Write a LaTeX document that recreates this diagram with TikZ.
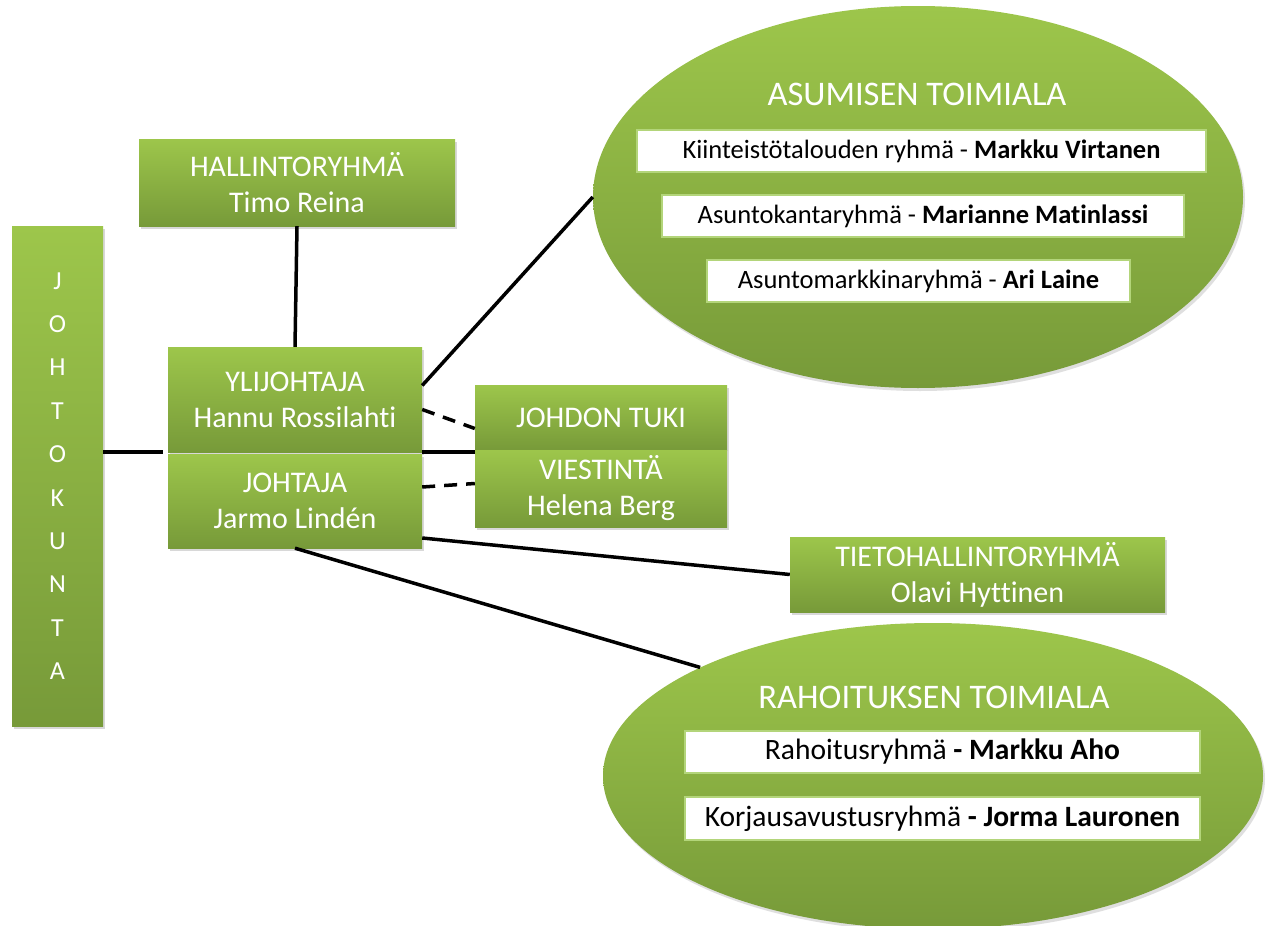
\documentclass[tikz,border=0pt]{standalone}
\usepackage{fontspec}
\setmainfont{Carlito}[Ligatures=NoCommon]
\usetikzlibrary{shadows,shapes.geometric,calc}
\definecolor{gtop}{HTML}{9DC64B}
\definecolor{gbot}{HTML}{779A39}
\definecolor{glow}{HTML}{B3D57A}
\tikzset{
  gbox/.style={rectangle, top color=gtop, bottom color=gbot, draw=none, text=white,
    align=center, inner sep=0pt, font=\fontsize{30}{36}\selectfont,
    drop shadow={opacity=0.3, shadow xshift=2pt, shadow yshift=-3pt}},
  gell/.style={ellipse, top color=gtop, bottom color=gbot, draw=none, inner sep=0pt,
    drop shadow={opacity=0.25, shadow xshift=2pt, shadow yshift=-3pt}},
  eltitle/.style={text=white, font=\fontsize{34.5}{40}\selectfont, inner sep=0pt},
  wbox/.style={rectangle, fill=white, draw=glow, line width=2.5pt, text=black,
    inner sep=0pt, font=\fontsize{26.5}{30}\selectfont},
  wboxb/.style={wbox, font=\fontsize{29.5}{33}\selectfont},
  conn/.style={line width=3.5pt, black},
  dconn/.style={conn, dash pattern=on 13pt off 9pt}
}
\begin{document}
\begin{tikzpicture}[x=1pt,y=-1pt]
\useasboundingbox (0,0) rectangle (1270,926);
\fill[white] (0,0) rectangle (1270,926);

% ellipses
\node[gell, minimum width=650pt, minimum height=382pt] (asum) at (918,197) {};
\node[gell, minimum width=660pt, minimum height=306pt] (rah) at (933,776) {};
\node[eltitle] (asumt) at (917,94) {ASUMISEN TOIMIALA};
\node[eltitle] (raht) at (934,697) {RAHOITUKSEN TOIMIALA};

\node[wbox, minimum width=569pt, minimum height=42pt] (a1) at (921.5,151)
  {Kiinteistötalouden ryhmä - \textbf{Markku Virtanen}};
\node[wbox, minimum width=522pt, minimum height=42pt] (a2) at (923,216)
  {Asuntokantaryhmä - \textbf{Marianne Matinlassi}};
\node[wbox, minimum width=423pt, minimum height=42pt] (a3) at (918.5,281)
  {Asuntomarkkinaryhmä - \textbf{Ari Laine}};
\node[wboxb, minimum width=515pt, minimum height=42pt] (r1) at (942.5,752)
  {Rahoitusryhmä \textbf{- Markku Aho}};
\node[wboxb, minimum width=515pt, minimum height=43pt] (r2) at (942.5,818.5)
  {Korjausavustusryhmä \textbf{- Jorma Lauronen}};

% boxes
\node[gbox, minimum width=91pt, minimum height=500pt, font=\fontsize{26}{43.4}\selectfont] (jk) at (57.5,476)
  {J\\O\\H\\T\\O\\K\\U\\N\\T\\A};
\node[gbox, minimum width=316pt, minimum height=87pt] (hall) at (297,182.5)
  {HALLINTORYHMÄ\\Timo Reina};
\node[gbox, minimum width=254pt, minimum height=105pt] (ylij) at (295,399.5)
  {YLIJOHTAJA\\Hannu Rossilahti};
\node[gbox, minimum width=254pt, minimum height=94pt] (joht) at (295,501)
  {JOHTAJA\\Jarmo Lindén};
\node[gbox, minimum width=252pt, minimum height=65pt] (tuki) at (601,417.5)
  {JOHDON TUKI};
\node[gbox, minimum width=252pt, minimum height=77pt] (viest) at (601,488.5)
  {VIESTINTÄ\\Helena Berg};
\node[gbox, minimum width=375pt, minimum height=75pt] (tieto) at (977.5,574.5)
  {TIETOHALLINTORYHMÄ\\Olavi Hyttinen};

% connectors
\draw[conn] (hall.south) -- (ylij.north);
\draw[conn] (jk.east |- ylij.south west) -- ([xshift=-5pt]ylij.south west);
\draw[conn] ([yshift=14pt]ylij.east) -- (asum.west);
\draw[dconn] ([yshift=-10pt]ylij.east) -- ([yshift=-11pt]tuki.west);
\draw[conn] (ylij.south east) -- (ylij.south east -| tuki.west);
\draw[dconn] ([yshift=14pt]joht.east) -- ([yshift=5pt]viest.west);
\draw[conn] ([yshift=-37pt]joht.east) -- (tieto.west);
\draw[conn] (joht.south) -- (rah.155);
\end{tikzpicture}
\end{document}
